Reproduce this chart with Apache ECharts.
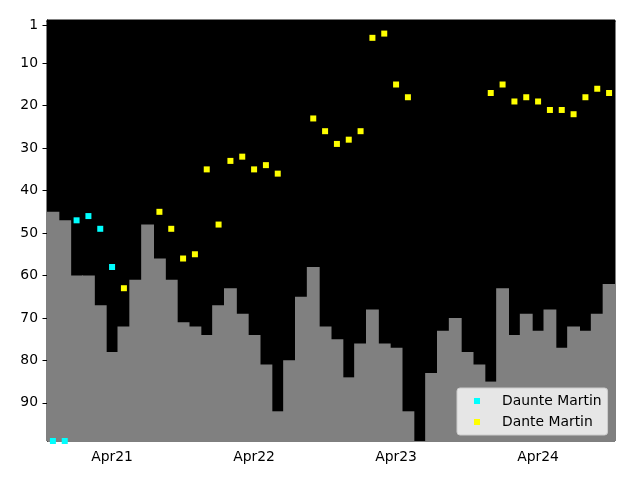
<!DOCTYPE html>
<html>
<head>
<meta charset="utf-8">
<script src="https://cdn.jsdelivr.net/npm/echarts@6/dist/echarts.min.js"></script>
<style>html,body{margin:0;padding:0;background:#fff}#c{width:640px;height:480px}</style>
</head>
<body>
<div id="c"></div>
<script>
const months = ['Nov20','Dec20','Jan21','Feb21','Mar21','Apr21','May21','Jun21','Jul21','Aug21','Sep21','Oct21',
  'Nov21','Dec21','Jan22','Feb22','Mar22','Apr22','May22','Jun22','Jul22','Aug22','Sep22','Oct22',
  'Nov22','Dec22','Jan23','Feb23','Mar23','Apr23','May23','Jun23','Jul23','Aug23','Sep23','Oct23',
  'Nov23','Dec23','Jan24','Feb24','Mar24','Apr24','May24','Jun24','Jul24','Aug24','Sep24','Oct24'];
const barValues = [45,47,60,60,67,78,72,61,48,56,61,71,
  72,74,67,63,69,74,81,92,80,65,58,72,
  75,84,76,68,76,77,92,null,83,73,70,78,
  81,85,63,74,69,73,68,77,72,73,69,62];
const daunteMartin = [99,99,47,46,49,58,null,null,null,null,null,null,
  null,null,null,null,null,null,null,null,null,null,null,null,
  null,null,null,null,null,null,null,null,null,null,null,null,
  null,null,null,null,null,null,null,null,null,null,null,null];
const danteMartin = [null,null,null,null,null,null,63,null,null,45,49,56,
  55,35,48,33,32,35,34,36,null,null,23,26,
  29,28,26,4,3,15,18,null,null,null,null,null,
  null,17,15,19,18,19,21,21,22,18,16,17];
const yTicks = [1,10,20,30,40,50,60,70,80,90];
const yMin = -0.2, yMax = 99;

const chart = echarts.init(document.getElementById('c'));
const font = 'DejaVu Sans';
const barData = [];
barValues.forEach((v, i) => { if (v !== null) barData.push([i, v]); });
const toPts = arr => arr.map((v, i) => v === null ? [i, '-'] : [i, v]);

chart.setOption({
  animation: false,
  backgroundColor: '#fff',
  grid: { left: 47, right: 25, top: 20, bottom: 39, show: true, backgroundColor: '#000', borderColor: '#000', borderWidth: 1 },
  xAxis: {
    type: 'category', data: months, boundaryGap: true,
    axisLine: { lineStyle: { color: '#000', width: 1 } },
    axisTick: { show: true, interval: 0, alignWithLabel: true, length: 4.5, lineStyle: { color: '#000' } },
    axisLabel: { interval: (idx, val) => val.startsWith('Apr'), color: '#000', fontFamily: font, fontSize: 13.9, margin: 9 },
    splitLine: { show: false }
  },
  yAxis: {
    type: 'value', inverse: true, min: yMin, max: yMax,
    axisLine: { show: true, lineStyle: { color: '#000', width: 1 } },
    axisTick: { show: true, length: 4.5, customValues: yTicks, lineStyle: { color: '#000' } },
    axisLabel: { customValues: yTicks, color: '#000', fontFamily: font, fontSize: 13.9, margin: 9, padding: [3, 0, 0, 0] },
    splitLine: { show: false }
  },
  legend: {
    orient: 'vertical', left: 457, top: 388,
    padding: [5, 6, 5, 17],
    backgroundColor: 'rgba(255,255,255,0.8)', borderColor: '#cccccc', borderWidth: 1, borderRadius: 3,
    itemWidth: 6, itemHeight: 6, itemGap: 5, icon: 'rect',
    textStyle: { fontFamily: font, fontSize: 13.9, color: '#000', lineHeight: 16, padding: [0, 0, 0, 17] },
    data: ['Daunte Martin', 'Dante Martin']
  },
  series: [
    {
      type: 'custom', name: 'rank', data: barData, silent: true, z: 1, clip: true,
      encode: { x: 0, y: 1 },
      renderItem: (params, api) => {
        const idx = api.value(0), v = api.value(1);
        const top = api.coord([idx, v]);
        const bot = api.coord([idx, yMax]);
        const w = api.size([1, 0])[0];
        return { type: 'rect', shape: { x: top[0] - w / 2 - 0.5, y: top[1], width: w + 1, height: bot[1] - top[1] },
          style: { fill: '#808080' } };
      }
    },
    {
      type: 'scatter', name: 'Daunte Martin', data: toPts(daunteMartin), symbol: 'rect', symbolSize: 6, z: 3,
      itemStyle: { color: '#00ffff', opacity: 1 }
    },
    {
      type: 'scatter', name: 'Dante Martin', data: toPts(danteMartin), symbol: 'rect', symbolSize: 6, z: 3,
      itemStyle: { color: '#ffff00', opacity: 1 }
    }
  ]
});
</script>
</body>
</html>
